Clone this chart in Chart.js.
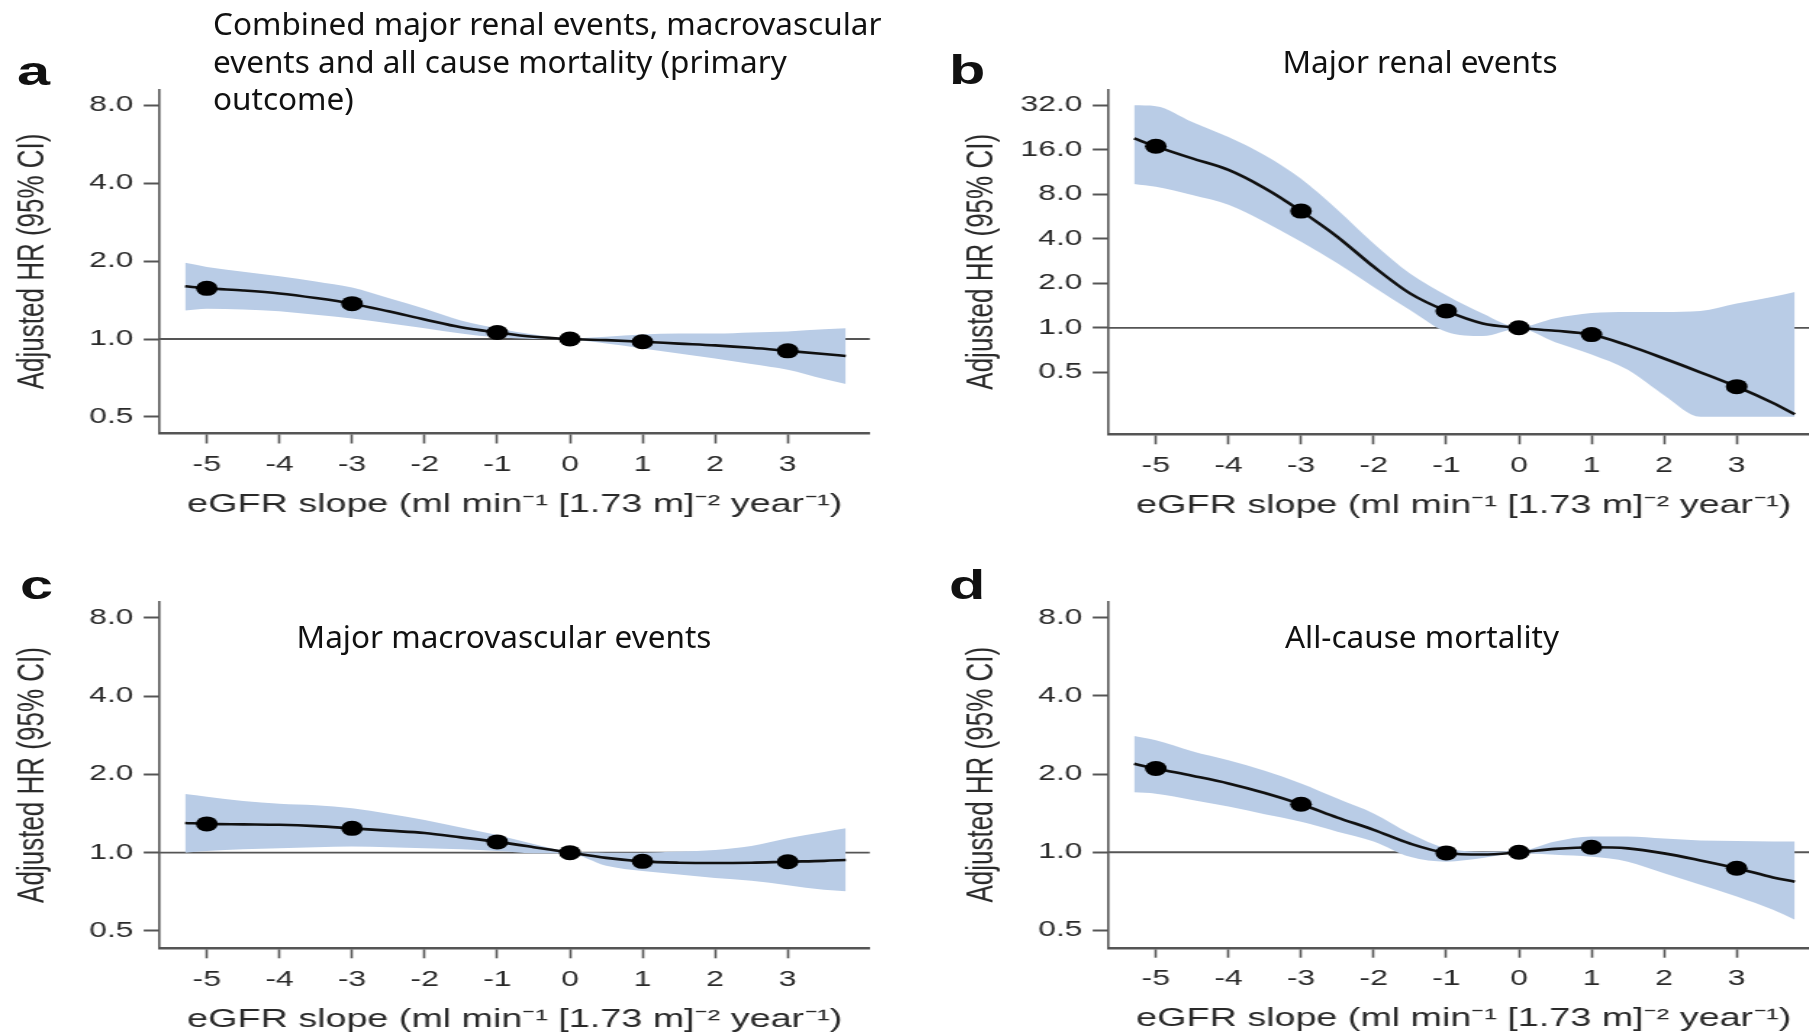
<!DOCTYPE html>
<html>
<head>
<meta charset="utf-8">
<script src="https://cdn.jsdelivr.net/npm/chart.js@4.4.1/dist/chart.umd.min.js"></script>
<style>
  html, body { margin: 0; padding: 0; background: #fff; }
  body { width: 1809px; height: 1034px; position: relative; overflow: hidden; }
  .panel { position: absolute; transform: scaleX(1.45); transform-origin: 0 0; }
  .letter { position: absolute; font: bold 41px 'Liberation Sans', Arial, sans-serif; line-height: 41px; color: #111; transform: scaleX(1.45); transform-origin: 0 0; }
  .title { position: absolute; font-family: 'Noto Sans', sans-serif; font-size: 31.5px; line-height: 37.5px; color: #111; white-space: nowrap; }
  .center { transform: translateX(-50%); }
</style>
</head>
<body>
<div class="panel" style="left:0px;top:0px"><canvas id="chartA" width="621" height="530"></canvas></div>
<div class="panel" style="left:949px;top:0px"><canvas id="chartB" width="621" height="530"></canvas></div>
<div class="panel" style="left:0px;top:512px"><canvas id="chartC" width="621" height="530"></canvas></div>
<div class="panel" style="left:949px;top:512px"><canvas id="chartD" width="621" height="530"></canvas></div>

<div class="letter" style="left:17px;top:51px">a</div>
<div class="letter" style="left:949px;top:50px">b</div>
<div class="letter" style="left:20px;top:565px">c</div>
<div class="letter" style="left:949px;top:565px">d</div>

<div class="title" style="left:213px;top:4px">Combined major renal events, macrovascular<br>events and all cause mortality (primary<br>outcome)</div>
<div class="title center" style="left:1420px;top:42px">Major renal events</div>
<div class="title center" style="left:504px;top:617px">Major macrovascular events</div>
<div class="title center" style="left:1422px;top:617px">All-cause mortality</div>

<script>
// x positions of the fitted spline and of the marked points
const slopeGrid = [-5.3, -5, -4.5, -4, -3.5, -3, -2.5, -2, -1.5, -1, -0.5, 0, 0.5, 1, 1.5, 2, 2.5, 3, 3.5, 3.8];
const markerSlopes = [-5, -3, -1, 0, 1, 3];
const slopeTicks = [-5, -4, -3, -2, -1, 0, 1, 2, 3];
const hrTicks = [0.5, 1, 2, 4, 8];
const hrTicksRenal = [0.5, 1, 2, 4, 8, 16, 32];
const refHR = 1;

// a: primary outcome
const primaryFit   = [1.60, 1.57, 1.54, 1.50, 1.44, 1.37, 1.28, 1.19, 1.11, 1.06, 1.02, 1.00, 0.99, 0.976, 0.96, 0.945, 0.925, 0.90, 0.875, 0.86];
const primaryUpper = [1.97, 1.90, 1.82, 1.75, 1.67, 1.58, 1.44, 1.31, 1.18, 1.10, 1.04, 1.005, 1.02, 1.04, 1.05, 1.05, 1.06, 1.07, 1.09, 1.10];
const primaryLower = [1.29, 1.31, 1.30, 1.28, 1.24, 1.20, 1.15, 1.10, 1.05, 1.015, 1.00, 0.995, 0.96, 0.92, 0.88, 0.84, 0.80, 0.76, 0.70, 0.67];
const primaryPoints = [1.57, 1.37, 1.06, 1.00, 0.976, 0.90];

// b: major renal events
const renalFit   = [19.1, 16.9, 14.0, 11.7, 8.8, 6.16, 4.13, 2.59, 1.71, 1.30, 1.07, 1.00, 0.955, 0.90, 0.76, 0.62, 0.50, 0.40, 0.31, 0.26];
const renalUpper = [32, 31.6, 24.7, 19.5, 14.7, 10.2, 6.3, 3.72, 2.33, 1.66, 1.25, 1.01, 1.16, 1.26, 1.28, 1.28, 1.30, 1.46, 1.62, 1.75];
const renalLower = [9.4, 9.0, 7.9, 6.8, 5.2, 3.82, 2.73, 1.89, 1.32, 0.94, 0.88, 0.99, 0.80, 0.66, 0.52, 0.35, 0.25, 0.25, 0.25, 0.25];
const renalPoints = [16.9, 6.16, 1.30, 1.00, 0.90, 0.40];

// c: major macrovascular events
const macroFit   = [1.30, 1.29, 1.285, 1.28, 1.265, 1.24, 1.215, 1.19, 1.145, 1.10, 1.05, 1.00, 0.955, 0.926, 0.915, 0.912, 0.915, 0.923, 0.93, 0.937];
const macroUpper = [1.68, 1.64, 1.58, 1.54, 1.52, 1.48, 1.41, 1.335, 1.25, 1.17, 1.08, 1.01, 1.00, 1.00, 1.01, 1.024, 1.06, 1.135, 1.20, 1.24];
const macroLower = [1.00, 1.015, 1.03, 1.04, 1.05, 1.055, 1.05, 1.04, 1.03, 1.015, 0.995, 0.99, 0.89, 0.85, 0.825, 0.80, 0.78, 0.75, 0.72, 0.71];
const macroPoints = [1.29, 1.24, 1.10, 1.00, 0.926, 0.923];

// d: all-cause mortality
const deathFit   = [2.19, 2.10, 1.97, 1.84, 1.69, 1.53, 1.36, 1.22, 1.08, 0.994, 0.98, 1.00, 1.03, 1.045, 1.035, 0.99, 0.93, 0.868, 0.80, 0.77];
const deathUpper = [2.80, 2.70, 2.45, 2.26, 2.06, 1.84, 1.61, 1.41, 1.18, 1.035, 1.005, 1.01, 1.10, 1.15, 1.15, 1.13, 1.11, 1.105, 1.10, 1.10];
const deathLower = [1.70, 1.68, 1.59, 1.50, 1.40, 1.31, 1.20, 1.10, 0.96, 0.92, 0.95, 0.99, 0.977, 0.96, 0.92, 0.83, 0.75, 0.675, 0.60, 0.55];
const deathPoints = [2.10, 1.53, 0.994, 1.00, 1.045, 0.868];

Chart.defaults.font.family = "'Liberation Sans', Arial, Helvetica, sans-serif";
Chart.defaults.color = '#2a2a2a';

const bandColor = 'rgb(185, 204, 230)';
const axisColor = '#555';

const refLine = {
  id: 'refLine',
  beforeDatasetsDraw(chart) {
    const { ctx, chartArea, scales: { y } } = chart;
    const py = y.getPixelForValue(refHR);
    ctx.save();
    ctx.strokeStyle = axisColor;
    ctx.lineWidth = 1.8;
    ctx.beginPath();
    ctx.moveTo(chartArea.left, py);
    ctx.lineTo(chartArea.right, py);
    ctx.stroke();
    ctx.restore();
  }
};

const xy = (xs, ys) => xs.map((x, i) => ({ x: x, y: ys[i] }));

function makeChart(id, fit, upper, lower, points, yTicks, yMin, yMax, areaTop, areaBottom) {
  const canvasH = 530;
  const xAxisH = 87;
  return new Chart(document.getElementById(id), {
    type: 'line',
    data: {
      datasets: [
        // order: higher numbers are drawn first, so the band sits under the fit and points
        { data: xy(slopeGrid, upper), order: 4, borderWidth: 0, borderColor: 'transparent', pointRadius: 0,
          fill: '+1', backgroundColor: bandColor, cubicInterpolationMode: 'monotone' },
        { data: xy(slopeGrid, lower), order: 3, borderWidth: 0, borderColor: 'transparent', pointRadius: 0,
          fill: false, cubicInterpolationMode: 'monotone' },
        { data: xy(slopeGrid, fit), order: 2, borderColor: '#111', borderWidth: 2.6, pointRadius: 0,
          fill: false, cubicInterpolationMode: 'monotone' },
        { data: xy(markerSlopes, points), order: 1, showLine: false, pointRadius: 7.5,
          pointBackgroundColor: '#000', pointBorderWidth: 0 }
      ]
    },
    options: {
      responsive: false,
      animation: false,
      layout: { padding: { top: areaTop, bottom: canvasH - areaBottom - xAxisH, left: 0, right: 21.2 } },
      plugins: { legend: { display: false }, tooltip: { enabled: false } },
      scales: {
        x: {
          type: 'linear',
          min: -5.65,
          max: 4.13,
          afterBuildTicks: s => { s.ticks = slopeTicks.map(v => ({ value: v })); },
          afterFit: s => { s.height = xAxisH; },
          grid: { drawOnChartArea: false, tickLength: 10, tickColor: axisColor, tickWidth: 1.6 },
          border: { color: axisColor, width: 2.4 },
          ticks: { font: { size: 22 }, padding: 8, maxRotation: 0, callback: v => String(v) },
          title: { display: true, text: 'eGFR slope (ml min\u207B\u00B9 [1.73 m]\u207B\u00B2 year\u207B\u00B9)',
                   font: { size: 26 }, padding: { top: 0, bottom: 0 } }
        },
        y: {
          type: 'logarithmic',
          min: yMin,
          max: yMax,
          afterBuildTicks: s => { s.ticks = yTicks.map(v => ({ value: v })); },
          afterFit: s => { s.width = 110.1; },
          grid: { drawOnChartArea: false, tickLength: 11, tickColor: axisColor, tickWidth: 2 },
          border: { color: axisColor, width: 1.6 },
          ticks: { font: { size: 22 }, padding: 7, callback: v => Number(v).toFixed(1) },
          title: { display: true, text: 'Adjusted HR (95% CI)', font: { size: 26 }, padding: { top: 7, bottom: 0 } }
        }
      }
    },
    plugins: [refLine]
  });
}

makeChart('chartA', primaryFit, primaryUpper, primaryLower, primaryPoints, hrTicks, Math.pow(2, -1.213), Math.pow(2, 3.206), 89.3, 433.5);
makeChart('chartB', renalFit, renalUpper, renalLower, renalPoints, hrTicksRenal, Math.pow(2, -2.393), Math.pow(2, 5.36), 89.3, 434.3);
makeChart('chartC', macroFit, macroUpper, macroLower, macroPoints, hrTicks, Math.pow(2, -1.221), Math.pow(2, 3.204), 89.7, 436.3);
makeChart('chartD', deathFit, deathUpper, deathLower, deathPoints, hrTicks, Math.pow(2, -1.221), Math.pow(2, 3.204), 89.7, 435.7);
</script>
</body>
</html>
